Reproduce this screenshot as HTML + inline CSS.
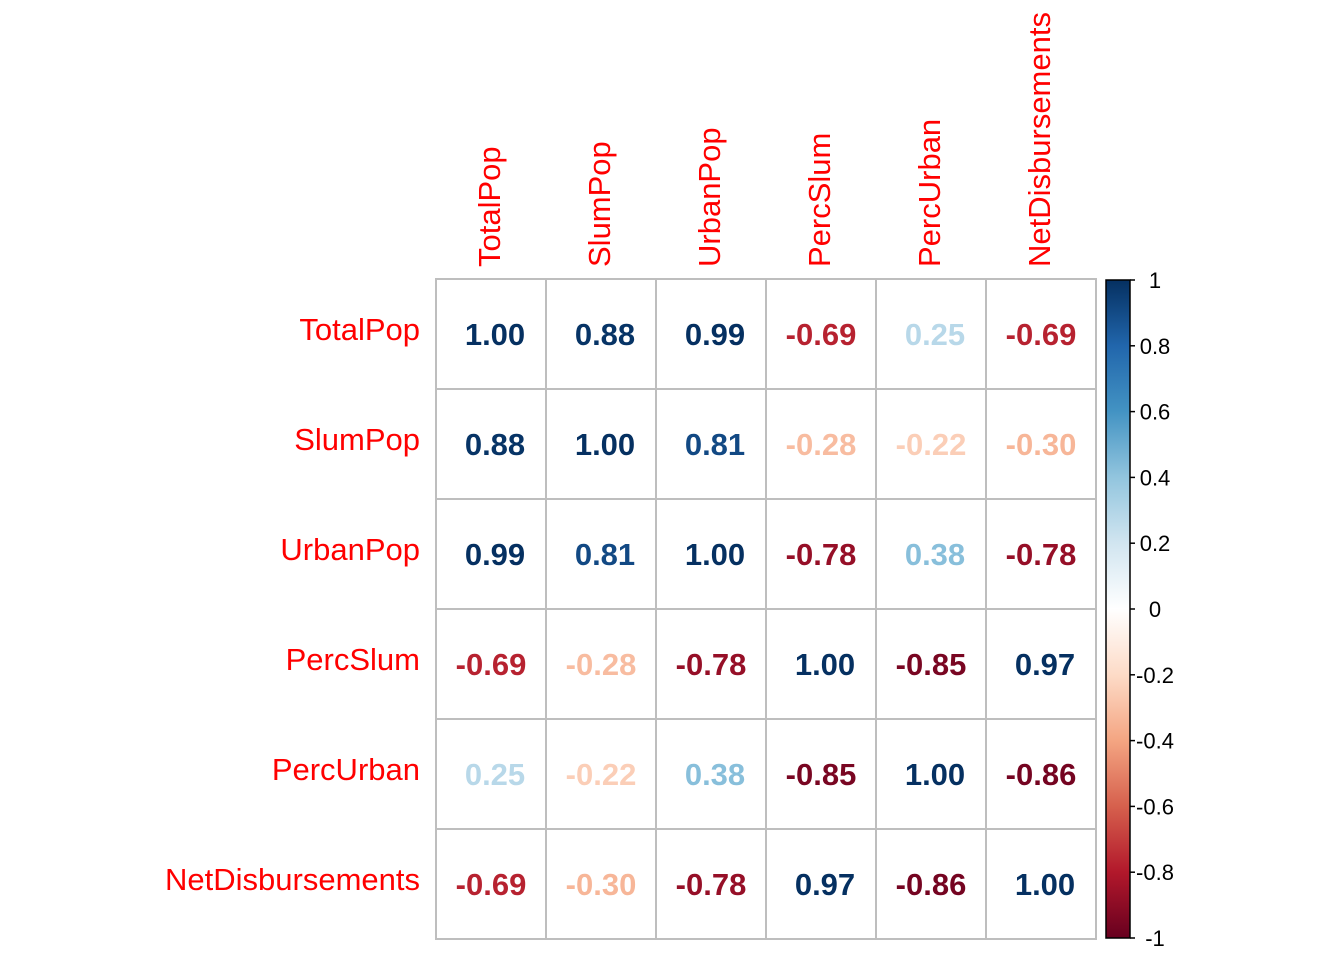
<!DOCTYPE html>
<html><head><meta charset="utf-8"><style>body{margin:0;background:#fff}svg{display:block}</style></head>
<body>
<svg id="chart" width="1344" height="960" xmlns="http://www.w3.org/2000/svg" font-family="Liberation Sans, Arial, sans-serif">
<defs><linearGradient id="cbg" x1="0" y1="1" x2="0" y2="0"></linearGradient></defs>
<g id="cells"></g><g id="labels"></g><g id="legend"></g>
</svg>
<script>
const variables = ["TotalPop","SlumPop","UrbanPop","PercSlum","PercUrban","NetDisbursements"];
const corrRow0 = [1.00,0.88,0.99,-0.69,0.25,-0.69];
const corrRow1 = [0.88,1.00,0.81,-0.28,-0.22,-0.30];
const corrRow2 = [0.99,0.81,1.00,-0.78,0.38,-0.78];
const corrRow3 = [-0.69,-0.28,-0.78,1.00,-0.85,0.97];
const corrRow4 = [0.25,-0.22,0.38,-0.85,1.00,-0.86];
const corrRow5 = [-0.69,-0.30,-0.78,0.97,-0.86,1.00];
const legendTicks = [1,0.8,0.6,0.4,0.2,0,-0.2,-0.4,-0.6,-0.8,-1];
const palette = ["#67001F","#B2182B","#D6604D","#F4A582","#FDDBC7","#FFFFFF","#D1E5F0","#92C5DE","#4393C3","#2166AC","#053061"];

const matrix=[corrRow0,corrRow1,corrRow2,corrRow3,corrRow4,corrRow5];
const NS="http://www.w3.org/2000/svg";
const x0=436,y0=279,cell=110;
const cx=i=>x0+cell*i, cy=j=>y0+cell*j;
const ly=v=>938-(v+1)/2*658;
function hex(h){return [1,3,5].map(k=>parseInt(h.substr(k,2),16));}
function colorFor(v){const t=(v+1)/2*(palette.length-1);const i=Math.min(Math.floor(t),palette.length-2);const f=t-i;
 const a=hex(palette[i]),b=hex(palette[i+1]);return "rgb("+a.map((c,k)=>Math.round(c+(b[k]-c)*f)).join(",")+")";}
function textColor(v){return colorFor(Math.max(-1,Math.min(1,v*1.12)));}
function mk(tag,attrs,parent){const e=document.createElementNS(NS,tag);for(const k in attrs)e.setAttribute(k,attrs[k]);parent.appendChild(e);return e;}
const cells=document.getElementById('cells'),labels=document.getElementById('labels'),legend=document.getElementById('legend');
const n=variables.length;
for(let r=0;r<n;r++)for(let c=0;c<n;c++){
 const v=matrix[r][c];
 const rect=mk('rect',{x:cx(c),y:cy(r),width:cell,height:cell,fill:'#fff',stroke:'#bebebe','stroke-width':2},cells);
 
 
 const t=mk('text',{x:cx(c)+cell/2+(v<0?0:4),y:cy(r)+cell/2+11,'text-anchor':'middle','font-size':31,'font-weight':'bold',fill:textColor(v)},cells);
 t.textContent=v.toFixed(2);
 
 
}
variables.forEach((name,i)=>{
 const t=mk('text',{x:420,y:cy(i)+cell/2+6,'text-anchor':'end','font-size':31,fill:'#ff0000'},labels);
 t.textContent=name;
 
 
 const px=cx(i)+cell/2+9;
 const u=mk('text',{x:px,y:267,transform:'rotate(-90 '+px+' 267)','font-size':31,fill:'#ff0000'},labels);
 u.textContent=name;
 
 
});
const g=document.getElementById('cbg');
palette.forEach((c,i)=>mk('stop',{offset:(i/(palette.length-1)),'stop-color':c},g));
const bar=mk('rect',{x:1106,y:ly(1),width:24,height:ly(-1)-ly(1),fill:'url(#cbg)',stroke:'#000','stroke-width':1.5},legend);


legendTicks.forEach(v=>{
 mk('line',{x1:1130,x2:1135,y1:ly(v),y2:ly(v),stroke:'#000','stroke-width':1.5},legend);
 const t=mk('text',{x:1155,y:ly(v)+8,'text-anchor':'middle','font-size':22,fill:'#000'},legend);
 t.textContent=String(v);
 
 
});
</script>
</body></html>
